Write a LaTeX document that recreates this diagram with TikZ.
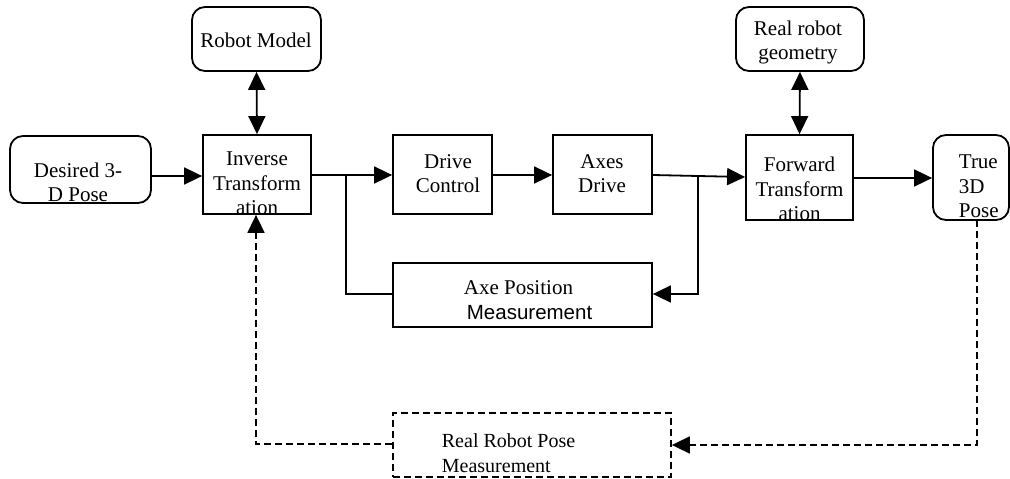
\documentclass[tikz,border=0pt]{standalone}
\usepackage{fontspec}
\setmainfont{Liberation Serif}
\newfontfamily\arialfont{Liberation Sans}
\usetikzlibrary{arrows.meta}
\begin{document}
\begin{tikzpicture}[x=1bp,y=-1bp,
  line width=1.8bp,
  box/.style={draw,inner sep=0pt,line width=1.8bp},
  rbox/.style={box,rounded corners=13bp},
  dbox/.style={box,dash pattern=on 7bp off 4bp},
  txt/.style={inner sep=0pt,anchor=base,align=center,font=\fontsize{21bp}{24.5bp}\selectfont},
  conn/.style={-{Triangle[length=18bp,width=17bp]}},
  bconn/.style={{Triangle[length=18bp,width=17bp]}-{Triangle[length=18bp,width=17bp]}},
  dconn/.style={conn,dash pattern=on 7bp off 4bp}]
\useasboundingbox (0,0) rectangle (1010,479);
% boxes
\node[rbox,minimum width=141bp,minimum height=67bp] (desired) at (80.5,169.5) {};
\node[rbox,minimum width=129bp,minimum height=64bp] (robotmodel) at (256.5,39) {};
\node[box,minimum width=108bp,minimum height=79bp] (inverse) at (257,174.5) {};
\node[box,minimum width=99bp,minimum height=79bp] (drive) at (442.5,174.5) {};
\node[box,minimum width=99bp,minimum height=79bp] (axes) at (602.5,174.5) {};
\node[box,minimum width=259bp,minimum height=64bp] (axepos) at (522.5,295) {};
\node[rbox,minimum width=128bp,minimum height=64bp] (realgeom) at (800,39) {};
\node[box,minimum width=107bp,minimum height=85bp] (forward) at (799.5,177.5) {};
\node[rbox,minimum width=76bp,minimum height=85bp] (true) at (971,177.5) {};
\node[dbox,minimum width=278bp,minimum height=64bp] (realpose) at (532,445) {};
% texts
\node[txt] (tdesired) at (78,202) {Desired 3-\\D Pose};
\node[txt] (trobot) at (256,48) {Robot Model};
\node[txt] (tinverse) at (257,215) {Inverse\\Transform\\ation};
\node[txt] (tdrive) at (448,193) {Drive\\Control};
\node[txt] (taxes) at (602,193) {Axes\\Drive};
\node[txt,anchor=base west] (taxe1) at (463,295) {Axe Position};
\node[txt,anchor=base west,font=\arialfont\fontsize{20.5bp}{24bp}\selectfont] (taxe2) at (466,320) {Measurement};
\node[txt] (tgeom) at (798,60) {Real robot\\geometry};
\node[txt] (tforward) at (799.5,221) {Forward\\Transform\\ation};
\node[txt,align=left,anchor=base west] (ttrue) at (958,218) {True\\3D\\Pose};
\node[txt,align=left,anchor=base west,font=\fontsize{20bp}{25bp}\selectfont] (treal) at (441,472) {Real Robot Pose\\Measurement};
% junctions
\coordinate (j1) at (346,175);
\coordinate (j2) at (698,176);
% connectors
\draw[conn] (desired.east |- 0,176) -- (inverse.west |- 0,176);
\draw[bconn] (robotmodel.south) -- (inverse.north);
\draw[conn] (inverse.east |- 0,175) -- (drive.west |- 0,175);
\draw[conn] (drive.east |- 0,175) -- (axes.west |- 0,175);
\draw[conn] (axes.east |- 0,175) -- (j2) -- (forward.west |- 0,177);
\draw (j1) -- (j1 |- 0,294) -- (axepos.west |- 0,294);
\draw[conn] (j2) -- (j2 |- 0,294) -- (axepos.east |- 0,294);
\draw[bconn] (realgeom.south) -- (forward.north);
\draw[conn] (forward.east |- 0,178) -- (true.west |- 0,178);
\draw[dconn] (977,220) -- (977,445) -- (realpose.east);
\draw[dconn] (realpose.west |- 0,444) -- (256,444) -- (inverse.south -| 256,0);
\end{tikzpicture}
\end{document}
